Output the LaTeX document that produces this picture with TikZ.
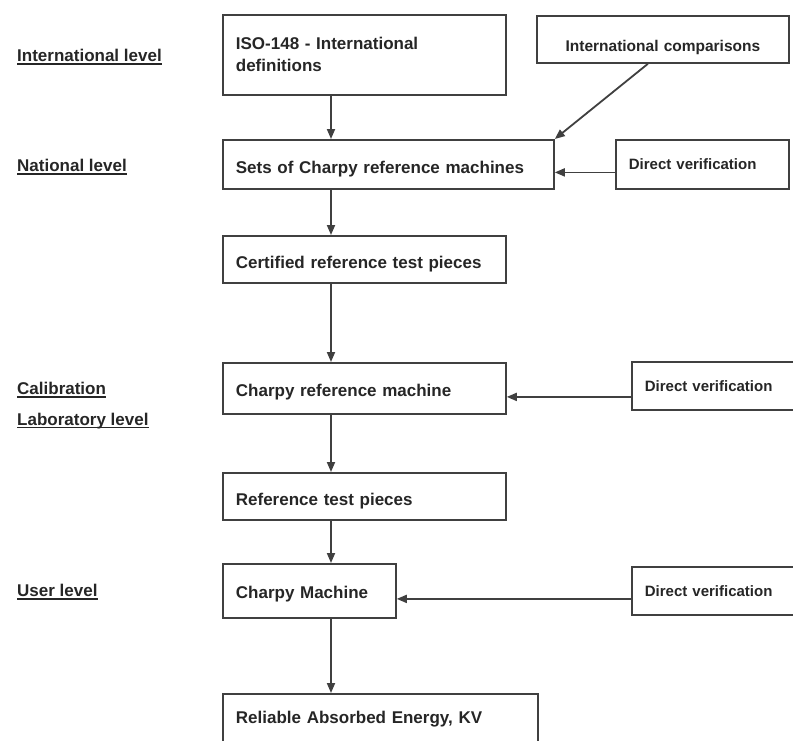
\documentclass[tikz,border=0pt]{standalone}
\usepackage{fontspec}
\setmainfont{Liberation Sans}
\usetikzlibrary{arrows.meta}
\newcommand\myul[1]{\setbox0\hbox{#1}\rlap{\rule[-3pt]{\wd0}{1.8pt}}\box0}
\begin{document}
\begin{tikzpicture}[x=1pt,y=-1pt,
  line/.style={draw=black!75, line width=1.8pt},
  box/.style={line, rectangle, anchor=north west, align=left, inner xsep=13pt, inner ysep=0pt,
    font=\fontsize{17}{22}\selectfont\bfseries, text=black!85},
  low/.style={text height=19pt, text depth=0pt},
  lowish/.style={text height=16pt, text depth=0pt},
  sidebox/.style={box, font=\fontsize{15}{18}\selectfont\bfseries},
  lvl/.style={anchor=west, inner sep=0pt, font=\fontsize{17}{22}\selectfont\bfseries, text=black!85},
  arr/.style={line, -{Triangle[length=10pt,width=8pt]}}]
\useasboundingbox (0,0) rectangle (793,740);
\fill[white] (0,0) rectangle (793,740);
\clip (0,0) rectangle (793,740);

% level labels
\node[lvl] (l1) at (17,57) {\myul{International level}};
\node[lvl] (l2) at (17,167) {\myul{National level}};
\node[lvl] (l3) at (17,390) {\myul{Calibration}};
\node[lvl] (l4) at (17,421) {\myul{Laboratory level}};
\node[lvl] (l5) at (17,592) {\myul{User level}};

% main column
\node[box, text width=257pt, minimum height=80pt] (iso) at (222,14) {ISO-148 - International\\definitions};
\node[box, low, text width=305pt, minimum height=49pt] (sets) at (222,139) {Sets of Charpy reference machines};
\node[box, low, text width=257pt, minimum height=47pt] (cert) at (222,235) {Certified reference test pieces};
\node[box, lowish, text width=257pt, minimum height=51pt] (crm) at (222,362) {Charpy reference machine};
\node[box, low, text width=257pt, minimum height=47pt] (rtp) at (222,472) {Reference test pieces};
\node[box, lowish, text width=147pt, minimum height=54pt] (cm) at (222,563) {Charpy Machine};
\node[box, text width=289pt, minimum height=50pt] (rel) at (222,693) {Reliable Absorbed Energy, KV};

% side boxes
\node[sidebox, align=center, text height=24pt, text depth=0pt, text width=226pt, minimum height=47pt, font=\fontsize{15.5}{18}\selectfont\bfseries] (ic) at (536,15) {International comparisons};
\node[sidebox, text width=147pt, minimum height=49pt] (dv1) at (615,139) {Direct verification};
\node[sidebox, text width=160pt, minimum height=48pt] (dv2) at (631,361) {Direct verification};
\node[sidebox, text width=160pt, minimum height=48pt] (dv3) at (631,566) {Direct verification};

% connectors
\coordinate (spine) at (331,0);
\draw[arr] (iso.south -| spine) -- (sets.north -| spine);
\draw[arr] (sets.south -| spine) -- (cert.north -| spine);
\draw[arr] (cert.south -| spine) -- (crm.north -| spine);
\draw[arr] (crm.south -| spine) -- (rtp.north -| spine);
\draw[arr] (rtp.south -| spine) -- (cm.north -| spine);
\draw[arr] (cm.south -| spine) -- (rel.north -| spine);

\draw[arr] ([xshift=-15pt]ic.south) -- (sets.north east);
\draw[arr] ([yshift=-8pt]dv1.west) -- ([yshift=-8pt]sets.east);
\draw[arr] ([yshift=-11pt]dv2.west) -- ([yshift=-11pt]dv2.west -| crm.east);
\draw[arr] ([yshift=-8pt]dv3.west) -- ([yshift=-8pt]dv3.west -| cm.east);
\end{tikzpicture}
\end{document}
